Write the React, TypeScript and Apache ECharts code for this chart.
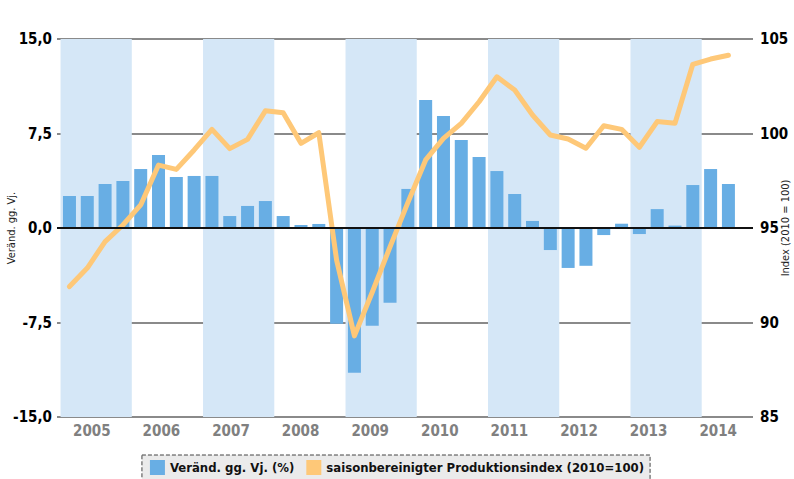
import React, { useEffect, useRef } from "react";
import * as echarts from "echarts";

const years = ["2005", "2006", "2007", "2008", "2009", "2010", "2011", "2012", "2013", "2014"];
const shadedYears = ["2005", "2007", "2009", "2011", "2013"];
// quarterly values, 2005 Q1 .. 2014 Q2
const changePct = [
  2.54, 2.54, 3.49, 3.73,
  4.68, 5.79, 4.05, 4.13,
  4.13, 0.95, 1.75, 2.14,
  0.95, 0.24, 0.32, -7.6,
  -11.48, -7.75, -5.93, 3.1,
  10.16, 8.89, 6.98, 5.63,
  4.52, 2.7, 0.56, -1.75,
  -3.17, -3.0, -0.56, 0.34,
  -0.48, 1.5, 0.19, 3.41,
  4.68, 3.49,
];
const prodIndex = [
  91.9, 92.88, 94.28, 95.16,
  96.22, 98.33, 98.1, 99.13,
  100.22, 99.2, 99.69, 101.2,
  101.1, 99.48, 100.04, 93.3,
  89.29, 91.6, 94.0, 96.34,
  98.6, 99.74, 100.54, 101.68,
  103.0, 102.3, 100.98, 99.92,
  99.71, 99.22, 100.41, 100.22,
  99.27, 100.63, 100.54, 103.66,
  103.94, 104.14,
];
const leftTicks = { min: -15, max: 15, interval: 7.5 };
const rightTicks = { min: 85, max: 105, interval: 5 };
const barName = "Veränd. gg. Vj. (%)";
const lineName = "saisonbereinigter Produktionsindex (2010=100)";

const FONT = "'Liberation Sans Narrow', 'DejaVu Sans Condensed', 'Arial Narrow', sans-serif";
const X_MIN = -0.7;
const X_MAX = 38.38;

export default function App() {
  const ref = useRef<HTMLDivElement>(null);
  useEffect(() => {
    if (!ref.current) return;
    const chart = echarts.init(ref.current, null, { renderer: "svg" });
    const bands = shadedYears.map((y) => {
      const i = years.indexOf(y);
      return [{ xAxis: Math.max(X_MIN, i * 4 - 0.5) }, { xAxis: i * 4 + 3.5 }];
    });
    const gridLine = { color: "#8a8a8a", width: 2 };
    chart.setOption({
      animation: false,
      textStyle: { fontFamily: FONT },
      grid: {
        left: 57,
        right: 41,
        top: 39,
        bottom: 62,
        containLabel: false,
        outerBoundsMode: "none",
      },
      legend: {
        data: [barName, lineName],
        top: 455,
        left: "center",
        icon: "rect",
        itemWidth: 15,
        itemHeight: 15,
        itemGap: 12,
        selectedMode: false,
        backgroundColor: "#ebebeb",
        borderColor: "#444",
        borderType: "dashed",
        borderWidth: 1,
        borderRadius: 0,
        padding: [5, 6, 14, 8],
        textStyle: { fontFamily: FONT, fontSize: 13, fontWeight: "bold", color: "#111" },
      },
      xAxis: [
        {
          type: "value",
          min: X_MIN,
          max: X_MAX,
          show: false,
          splitLine: { show: false },
        },
        {
          type: "category",
          data: years,
          position: "bottom",
          boundaryGap: true,
          axisLine: { show: false },
          axisTick: { show: false },
          splitLine: { show: false },
          axisLabel: {
            margin: 6,
            color: "#808080",
            fontSize: 15,
            fontWeight: "bold",
            fontFamily: FONT,
          },
        },
      ],
      yAxis: [
        {
          type: "value",
          ...leftTicks,
          position: "left",
          name: "Veränd. gg. Vj.",
          nameLocation: "middle",
          nameRotate: 90,
          nameGap: 40,
          nameMoveOverlap: false,
          nameTextStyle: { fontSize: 11, color: "#222", fontFamily: FONT },
          axisLine: { show: false },
          axisTick: { show: false },
          splitLine: { show: true, lineStyle: gridLine },
          axisLabel: {
            margin: 5,
            color: "#000",
            fontSize: 15,
            fontWeight: "bold",
            fontFamily: FONT,
            formatter: (v: number) => v.toFixed(1).replace(".", ","),
          },
        },
        {
          type: "value",
          ...rightTicks,
          position: "right",
          name: "Index (2010 = 100)",
          nameLocation: "middle",
          nameRotate: 90,
          nameGap: 27,
          nameMoveOverlap: false,
          nameTextStyle: { fontSize: 11, color: "#222", fontFamily: FONT },
          axisLine: { show: false },
          axisTick: { show: false },
          splitLine: { show: false },
          axisLabel: {
            margin: 7,
            color: "#000",
            fontSize: 15,
            fontWeight: "bold",
            fontFamily: FONT,
          },
        },
      ],
      series: [
        {
          name: "bands",
          type: "line",
          xAxisIndex: 0,
          yAxisIndex: 0,
          data: [],
          z: 0,
          silent: true,
          markArea: {
            silent: true,
            itemStyle: { color: "#d5e7f7" },
            data: bands,
          },
        },
        {
          name: barName,
          type: "bar",
          xAxisIndex: 0,
          yAxisIndex: 0,
          barWidth: 13,
          itemStyle: { color: "#68aee4" },
          data: changePct.map((v, i) => [i, v]),
          z: 2,
          markLine: {
            silent: true,
            symbol: "none",
            label: { show: false },
            lineStyle: { color: "#111", width: 2, type: "solid" },
            data: [{ yAxis: 0 }],
          },
        },
        {
          name: lineName,
          type: "line",
          xAxisIndex: 0,
          yAxisIndex: 1,
          showSymbol: false,
          symbol: "none",
          itemStyle: { color: "#fec878" },
          lineStyle: { color: "#fec878", width: 5, join: "round", cap: "round" },
          data: prodIndex.map((v, i) => [i, v]),
          z: 3,
        },
      ],
    });
    return () => chart.dispose();
  }, []);
  return (
    <div
      ref={ref}
      style={{ position: "fixed", left: 0, top: 0, width: 794, height: 479, background: "#fff" }}
    />
  );
}
